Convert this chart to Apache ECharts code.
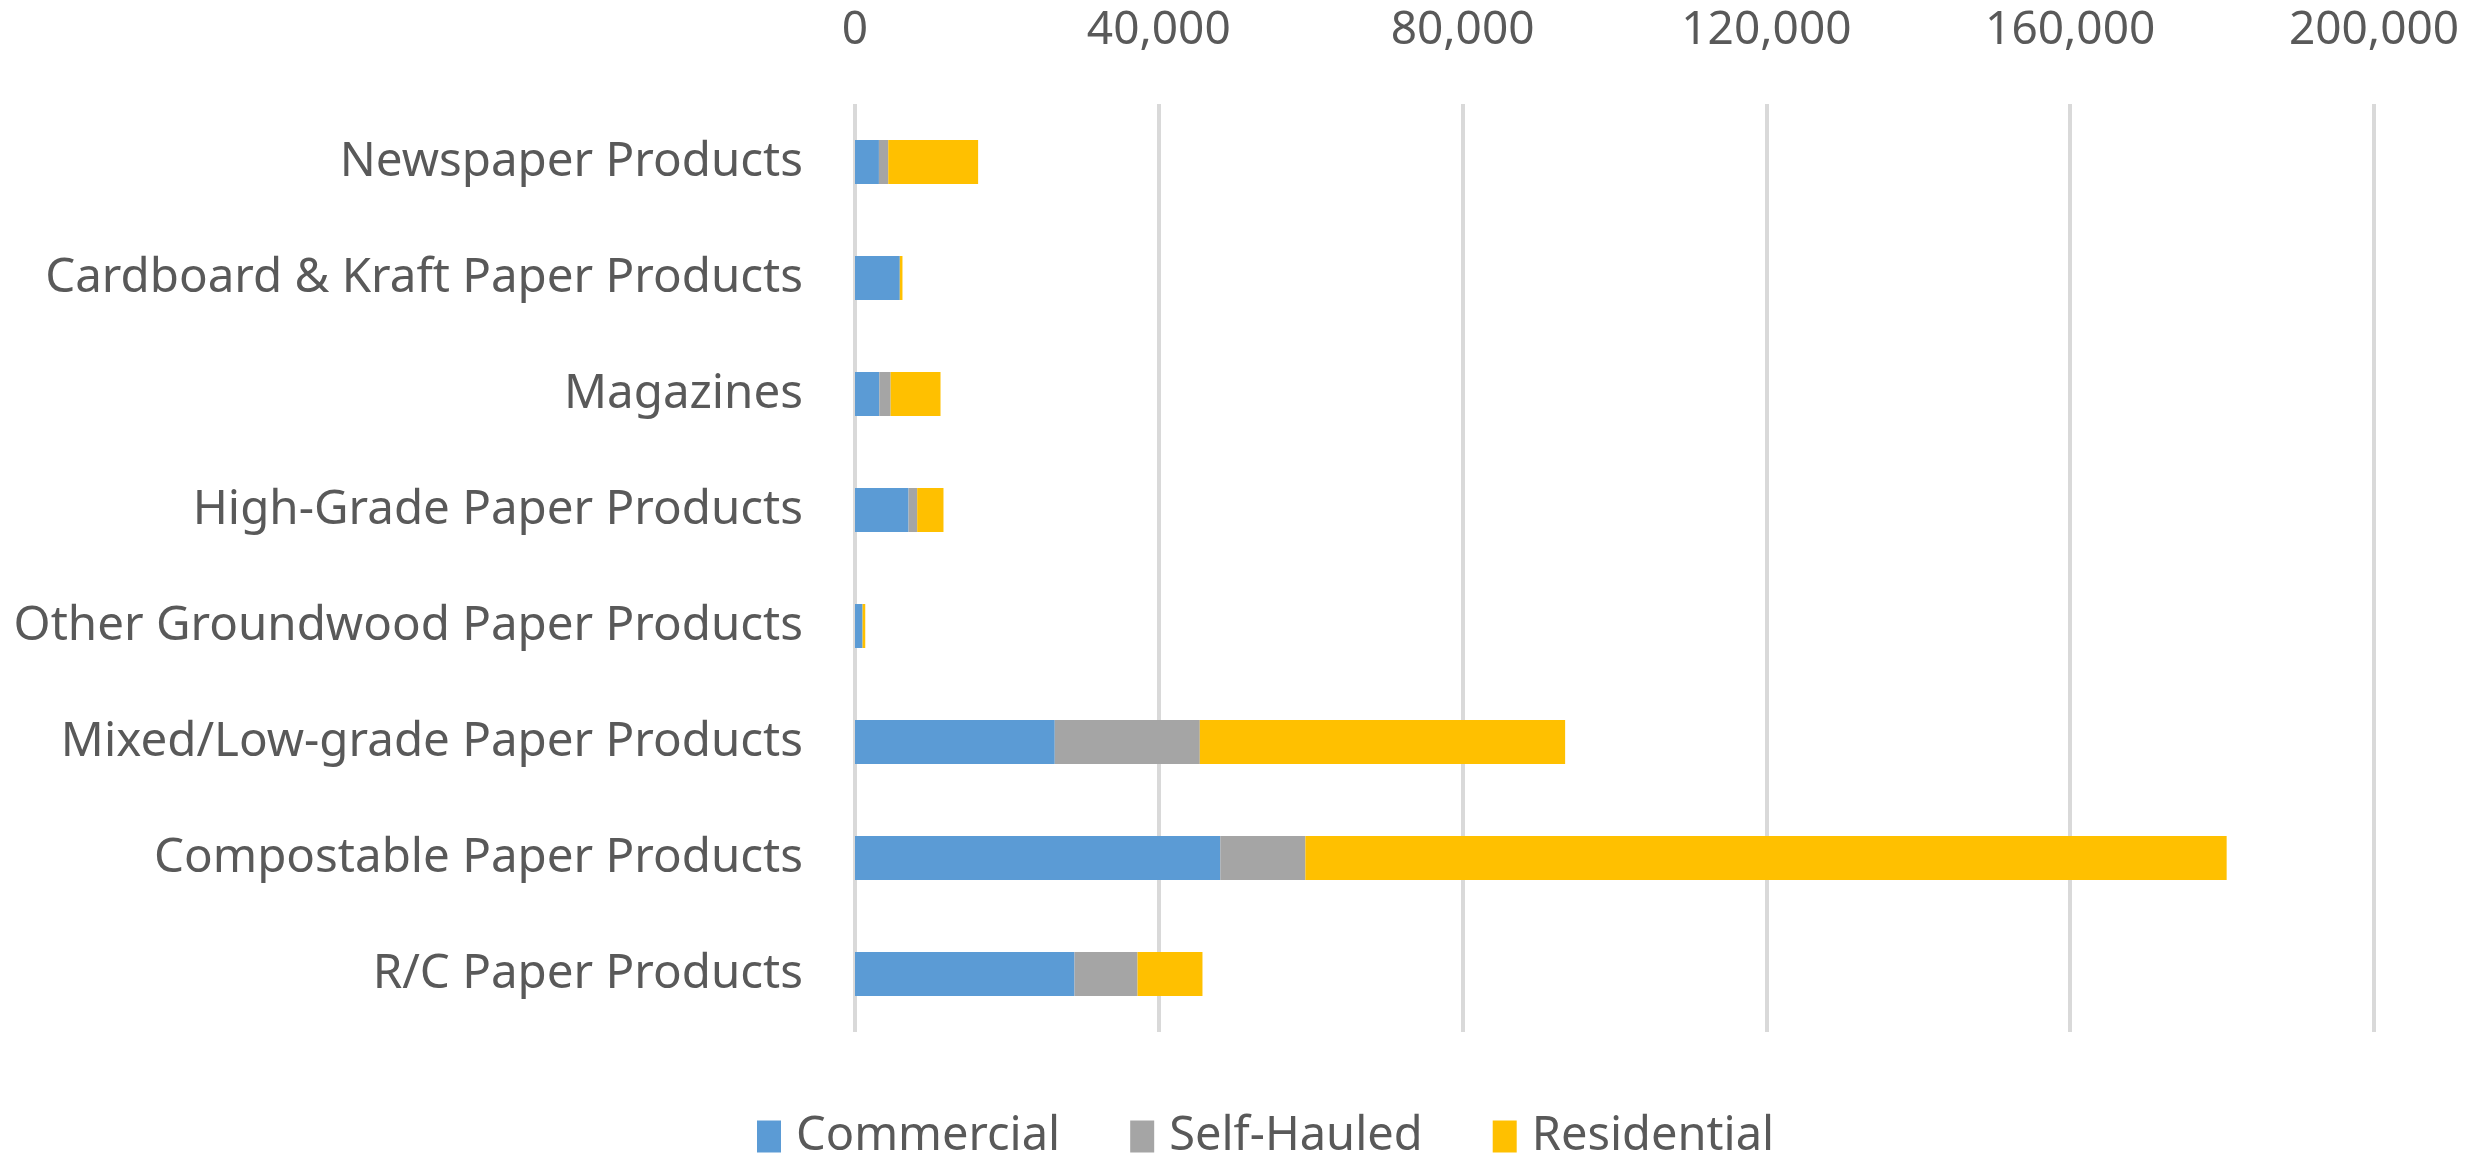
<!DOCTYPE html>
<html>
<head>
<meta charset="utf-8">
<script src="https://cdn.jsdelivr.net/npm/echarts@6/dist/echarts.min.js"></script>
<style>
  html, body { margin: 0; padding: 0; background: #fff; }
  #chart { width: 2476px; height: 1159px; }
</style>
</head>
<body>
<div id="chart"></div>
<script>
// categories, top to bottom
var categories = [
    'Newspaper Products',
    'Cardboard & Kraft Paper Products',
    'Magazines',
    'High-Grade Paper Products',
    'Other Groundwood Paper Products',
    'Mixed/Low-grade Paper Products',
    'Compostable Paper Products',
    'R/C Paper Products'
];
var commercial  = [3150, 5900, 3200, 7050, 1000, 26300, 48100, 28900];
var selfHauled  = [1230, 0, 1490, 1140, 0, 19100, 11200, 8300];
var residential = [11830, 350, 6570, 3460, 350, 48100, 121300, 8550];
var xTicks = [0, 40000, 80000, 120000, 160000, 200000];

var textColor = '#595959';
var font = 'Noto Sans';

var myChart = echarts.init(document.getElementById('chart'));

function bar(name, data) {
    return {
        name: name,
        type: 'bar',
        stack: 'total',
        data: data,
        barWidth: 44,
        emphasis: { disabled: true }
    };
}

var option = {
    animation: false,
    color: ['#5b9bd5', '#a5a5a5', '#ffc000'],
    grid: {
        left: 855,
        right: 102,
        top: 104,
        bottom: 127,
        containLabel: false
    },
    legend: {
        bottom: -6,
        left: 752,
        itemWidth: 24,
        itemHeight: 32,
        itemGap: 70,
        icon: 'rect',
        textStyle: {
            color: textColor,
            fontFamily: font,
            fontSize: 47,
            padding: [0, 0, 0, 10]
        },
        data: ['Commercial', 'Self-Hauled', 'Residential']
    },
    xAxis: {
        type: 'value',
        position: 'top',
        min: xTicks[0],
        max: xTicks[xTicks.length - 1],
        interval: xTicks[1] - xTicks[0],
        axisLine: { show: false },
        axisTick: { show: false },
        splitLine: { lineStyle: { color: '#d9d9d9', width: 4 } },
        axisLabel: {
            color: textColor,
            fontFamily: font,
            fontSize: 46,
            margin: 50,
            formatter: function (v) { return v.toLocaleString('en-US'); }
        }
    },
    yAxis: {
        type: 'category',
        inverse: true,
        data: categories,
        axisLine: { show: false },
        axisTick: { show: false },
        axisLabel: {
            color: textColor,
            fontFamily: font,
            fontSize: 47.5,
            margin: 52
        }
    },
    series: [
        bar('Commercial', commercial),
        bar('Self-Hauled', selfHauled),
        bar('Residential', residential)
    ]
};
myChart.setOption(option);
</script>
</body>
</html>
